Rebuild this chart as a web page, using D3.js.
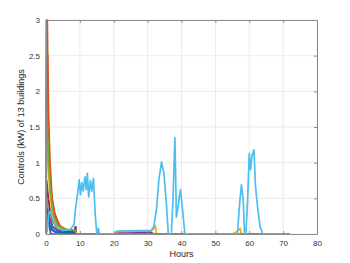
<!DOCTYPE html>
<html>
<head>
<meta charset="utf-8">
<script src="https://cdn.jsdelivr.net/npm/d3@7"></script>
<style>
  body { margin: 0; background: #fff; }
  text { font-family: "Liberation Sans", Arial, sans-serif; }
</style>
</head>
<body>
<svg id="canvas" width="350" height="263"></svg>
<script>
// axis ticks
let xTicks = [0, 10, 20, 30, 40, 50, 60, 70, 80];
let yTicks = [0, 0.5, 1, 1.5, 2, 2.5, 3];

// MATLAB default colour order, cycled over the 13 buildings
let colorOrder = ["#0072BD", "#D95319", "#EDB120", "#7E2F8E", "#77AC30", "#4DBEEE", "#A2142F"];

// [hour, kW] for each building
let building1 = [[0, 0], [0.2, 0.38], [0.6, 0.25], [1.2, 0.12], [2, 0.06], [3, 0.03], [6, 0.02], [8, 0.02], [9, 0], [72, 0]];
let building2 = [[0, 0], [0.1, 3.0], [0.4, 3.0], [0.7, 1.4], [1.1, 0.9], [1.6, 0.55], [2.5, 0.3], [4, 0.12], [6, 0.06], [8, 0.05], [9, 0], [72, 0]];
let building3 = [[0, 0], [0.1, 2.15], [0.5, 1.5], [1, 0.9], [1.6, 0.45], [2.5, 0.2], [4, 0.08], [7, 0.04], [8.5, 0.03], [9, 0], [20, 0], [21, 0.03], [31, 0.04], [31.8, 0.07], [32.3, 0.12], [32.6, 0], [55, 0], [56.5, 0.04], [57.3, 0.08], [57.7, 0], [72, 0]];
let building4 = [[0, 0], [0.3, 0.28], [0.8, 0.2], [1.1, 0.08], [1.4, 0], [8.5, 0], [8.6, 0.1], [8.8, 0.1], [8.9, 0], [20, 0], [21, 0.01], [31, 0.02], [32, 0], [72, 0]];
let building5 = [[0, 0], [0.1, 2.1], [0.5, 1.7], [0.9, 1.1], [1.4, 0.6], [2, 0.3], [3, 0.14], [4.5, 0.07], [7, 0.05], [8.5, 0.04], [9, 0], [72, 0]];
let building6 = [[0, 0], [0.2, 0.5], [0.7, 0.3], [1.3, 0.18], [2, 0.1], [3.5, 0.05], [7, 0.03], [8.5, 0.02], [9, 0], [72, 0]];
let building7 = [[0, 0], [0.2, 0.75], [0.6, 0.55], [1.1, 0.35], [1.8, 0.2], [3, 0.1], [5, 0.05], [8, 0.04], [9, 0], [72, 0]];
let building8 = [[0, 0], [0.3, 0.2], [0.8, 0.15], [1.4, 0.07], [2.5, 0.03], [8, 0.02], [9, 0], [72, 0]];
let building9 = [[0, 0], [0.2, 2.55], [0.5, 2.5], [0.8, 1.6], [1.2, 1.0], [1.8, 0.5], [2.8, 0.22], [4.5, 0.09], [7, 0.05], [8.5, 0.05], [9, 0], [72, 0]];
let building10 = [[0, 0], [0.2, 1.3], [0.6, 1.0], [1.1, 0.6], [1.8, 0.3], [3, 0.12], [5, 0.06], [8.5, 0.04], [9, 0], [72, 0]];
let building11 = [[0, 0], [0.3, 0.35], [0.7, 0.3], [1.2, 0.2], [2, 0.1], [3.5, 0.05], [8, 0.04], [9, 0], [72, 0]];
let building12 = [[0, 0], [0.1, 1.5], [0.5, 1.3], [0.9, 0.9], [1.5, 0.5], [2.3, 0.25], [3.5, 0.12], [6, 0.06], [8.5, 0.05], [9, 0], [72, 0]];
let building13 = [[0, 0], [0.4, 0.05], [0.8, 0.3], [1.3, 0.32], [1.8, 0.22], [2.5, 0.14], [3.5, 0.08], [5, 0.05], [7, 0.06], [7.8, 0.1], [8.3, 0.14], [8.7, 0.35], [9.3, 0.55], [9.8, 0.76], [10.2, 0.55], [10.6, 0.72], [11, 0.6], [11.5, 0.8], [11.9, 0.62], [12.2, 0.85], [12.6, 0.52], [13.1, 0.75], [13.5, 0.6], [14, 0.78], [14.5, 0.3], [15, 0], [15.4, 0.08], [15.8, 0], [20, 0], [21, 0.04], [31, 0.05], [31.8, 0.1], [32.6, 0.34], [33.3, 0.75], [34.1, 1.01], [34.8, 0.85], [35.5, 0.45], [36.1, 0], [37, 0], [37.5, 0.5], [38.05, 1.35], [38.5, 0.24], [39, 0.38], [39.3, 0.5], [39.7, 0.62], [40.3, 0.35], [41, 0], [56.5, 0], [57.2, 0.45], [57.7, 0.69], [58.2, 0.5], [58.6, 0], [59, 0], [59.5, 0.45], [60, 1.13], [60.4, 0.9], [60.8, 1.1], [61.4, 1.18], [61.8, 0.7], [62.4, 0.4], [63.2, 0.1], [64, 0], [72, 0]];

let buildings = [building1, building2, building3, building4, building5, building6, building7,
                 building8, building9, building10, building11, building12, building13];

let canvas = d3.select("#canvas");

let plotLeft = 46, plotRight = 317, plotTop = 20, plotBottom = 234;

let xScale = d3.scaleLinear().domain([0, 80]).range([plotLeft, plotRight]);
let yScale = d3.scaleLinear().domain([0, 3]).range([plotBottom, plotTop]);

// grid
canvas.append("g")
      .selectAll("line")
      .data(xTicks)
      .enter()
      .append("line")
      .attr("x1", d => xScale(d)).attr("x2", d => xScale(d))
      .attr("y1", plotTop).attr("y2", plotBottom)
      .attr("stroke", "#ebebeb");
canvas.append("g")
      .selectAll("line")
      .data(yTicks)
      .enter()
      .append("line")
      .attr("x1", plotLeft).attr("x2", plotRight)
      .attr("y1", d => yScale(d)).attr("y2", d => yScale(d))
      .attr("stroke", "#ebebeb");

// lines
let line = d3.line().x(d => xScale(d[0])).y(d => yScale(d[1]));
canvas.append("g")
      .selectAll("path")
      .data(buildings)
      .enter()
      .append("path")
      .attr("d", line)
      .attr("fill", "none")
      .attr("stroke", (d, i) => colorOrder[i % colorOrder.length])
      .attr("stroke-width", 1.7)
      .attr("stroke-linejoin", "round");

// axes (MATLAB box with inward ticks)
let axisColor = "#8c8c8c";
let xAxis = d3.axisBottom(xScale).tickValues(xTicks).tickSizeInner(-3).tickSizeOuter(0).tickPadding(6);
let yAxis = d3.axisLeft(yScale).tickValues(yTicks).tickSizeInner(-3).tickSizeOuter(0).tickPadding(6).tickFormat(d3.format("~g"));

let gx = canvas.append("g").attr("transform", `translate(0,${plotBottom})`).call(xAxis);
let gy = canvas.append("g").attr("transform", `translate(${plotLeft},0)`).call(yAxis);
let gxTop = canvas.append("g").attr("transform", `translate(0,${plotTop})`)
                  .call(d3.axisTop(xScale).tickValues(xTicks).tickSizeInner(-3).tickSizeOuter(0).tickFormat(""));
let gyRight = canvas.append("g").attr("transform", `translate(${plotRight},0)`)
                    .call(d3.axisRight(yScale).tickValues(yTicks).tickSizeInner(-3).tickSizeOuter(0).tickFormat(""));

[gx, gy, gxTop, gyRight].forEach(g => {
    g.selectAll("path").attr("stroke", axisColor);
    g.selectAll("line").attr("stroke", axisColor);
    g.selectAll("text").attr("fill", "#333").style("font-size", "8px");
});

// labels
canvas.append("text")
      .attr("x", (plotLeft + plotRight) / 2)
      .attr("y", 257)
      .attr("text-anchor", "middle")
      .attr("fill", "#262626")
      .style("font-size", "9px")
      .text("Hours");

canvas.append("text")
      .attr("transform", `translate(24,${(plotTop + plotBottom) / 2}) rotate(-90)`)
      .attr("text-anchor", "middle")
      .attr("fill", "#262626")
      .style("font-size", "9px")
      .text("Controls (kW) of 13 buildings");
</script>
</body>
</html>
